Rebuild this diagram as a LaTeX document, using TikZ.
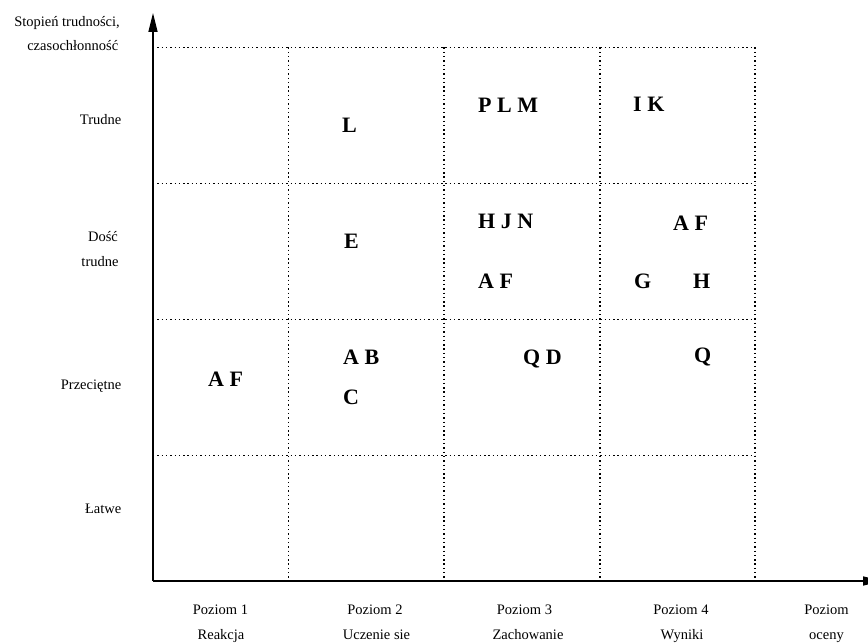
\documentclass[tikz,border=0pt]{standalone}
\usepackage{fontspec}
\setmainfont{Liberation Serif}
\usetikzlibrary{arrows.meta}
\tikzset{
  lbl/.style={inner sep=0pt, font=\fontsize{14.5}{17}\selectfont},
  ylbl/.style={lbl, anchor=base east},
  xlbl/.style={lbl, anchor=base},
  letterbox/.style={inner sep=0pt, anchor=base west, font=\fontsize{22}{24}\selectfont\bfseries},
  axisline/.style={line width=1.6pt, -{Triangle[length=19pt,width=9pt]}},
  gridline/.style={line width=1.4pt, dash pattern=on 1.4pt off 2.9pt, black},
}
\begin{document}
\begin{tikzpicture}[x=1pt,y=-1pt]
\useasboundingbox (0,0) rectangle (868,644);
% grid
\foreach \yy in {47.5,183.5,319.5,455.5} \draw[gridline] (153,\yy) -- (755,\yy);
\foreach \xx in {288.5,444,600,755} \draw[gridline] (\xx,47.5) -- (\xx,581);
% axes
\coordinate (o) at (153,581);
\coordinate (ytip) at (153,13);
\coordinate (xtip) at (882,581);
\draw[axisline] (o) -- (ytip);
\draw[axisline] (o) -- (xtip);
% y labels
\node[ylbl] (s1) at (120,26.5) {Stopień trudności,};
\node[ylbl] (s2) at (118.5,50.5) {czasochłonność};
\node[ylbl] (tr) at (121.5,125) {Trudne};
\node[lbl, anchor=base] (dc) at (103,241.5) {Dość};
\node[lbl, anchor=base] (dt) at (100,267) {trudne};
\node[ylbl] (pr) at (121.5,389) {Przeciętne};
\node[ylbl] (la) at (121.5,513) {Łatwe};
% x labels
\node[xlbl] (p1) at (220.5,614.5) {Poziom 1};
\node[xlbl] (r1) at (221,639.5) {Reakcja};
\node[xlbl] (p2) at (375,614.5) {Poziom 2};
\node[xlbl] (r2) at (376.5,639.5) {Uczenie sie};
\node[xlbl] (p3) at (524.5,614.5) {Poziom 3};
\node[xlbl] (r3) at (528,639.5) {Zachowanie};
\node[xlbl] (p4) at (681,614.5) {Poziom 4};
\node[xlbl] (r4) at (682,639.5) {Wyniki};
\node[xlbl] (p5) at (826.5,614.5) {Poziom};
\node[xlbl] (r5) at (826.5,639.5) {oceny};
% letters
\node[letterbox] (m1) at (208,386.5) {A F};
\node[letterbox] (m2) at (342,133) {L};
\node[letterbox] (m3) at (344,249) {E};
\node[letterbox] (m4) at (343,365) {A B};
\node[letterbox] (m5) at (343,405) {C};
\node[letterbox] (m6) at (478,113) {P L M};
\node[letterbox] (m7) at (478,229) {H J N};
\node[letterbox] (m8) at (478,289) {A F};
\node[letterbox] (m9) at (523,365) {Q D};
\node[letterbox] (m10) at (633,111.5) {I K};
\node[letterbox] (m11) at (673,230.5) {A F};
\node[letterbox] (m12) at (634,289) {G};
\node[letterbox] (m13) at (693,289) {H};
\node[letterbox] (m14) at (694,363) {Q};
\end{tikzpicture}
\end{document}
